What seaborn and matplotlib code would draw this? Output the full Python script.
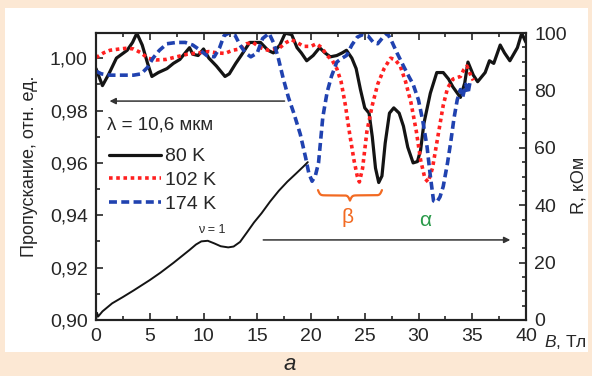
import numpy as np
import matplotlib
matplotlib.use('Agg')
import matplotlib.pyplot as plt
import seaborn as sns
from matplotlib.patches import Rectangle
from matplotlib.ticker import MultipleLocator, FuncFormatter

# Transmission curves (left axis), B in T
b_80 = [0.0, 0.6, 1.2, 1.9, 2.9, 3.4, 3.8, 4.3, 4.8, 5.2, 5.8, 6.6, 7.2, 7.8, 8.3, 8.7, 9.0, 9.5,
        10.0, 10.5, 11.2, 12.0, 12.4, 13.0, 13.5, 14.3, 15.3, 16.0, 16.5, 17.1, 17.6, 18.2, 18.7,
        19.1, 19.6, 20.2, 20.8, 21.3, 21.8, 22.4, 22.9, 23.3, 23.8, 24.2, 24.6, 25.0, 25.4, 25.7,
        26.0, 26.3, 26.6, 26.9, 27.3, 27.7, 28.2, 28.6, 29.0, 29.5, 29.9, 30.2, 30.5, 31.1, 31.7,
        32.3, 32.8, 33.2, 33.9, 34.3, 34.6, 35.1, 35.5, 36.2, 36.6, 37.0, 37.6, 38.0, 38.5, 39.2,
        39.6, 40.0]
t_80 = [0.996, 0.9895, 0.994, 1.000, 1.003, 1.006, 1.0095, 1.005, 0.998, 0.993, 0.9945, 0.996,
        0.998, 0.9995, 1.002, 1.004, 1.0015, 1.001, 1.0035, 1.000, 0.997, 0.993, 0.994, 0.998,
        1.001, 1.006, 1.006, 1.003, 1.002, 1.005, 1.0095, 1.009, 1.004, 1.002, 0.999, 1.001, 1.004,
        1.002, 1.0005, 1.001, 1.002, 1.003, 1.000, 0.996, 0.988, 0.981, 0.979, 0.970, 0.958,
        0.9525, 0.955, 0.9675, 0.979, 0.981, 0.979, 0.974, 0.966, 0.960, 0.9605, 0.965, 0.975,
        0.9866, 0.9945, 0.9945, 0.992, 0.989, 0.985, 0.9905, 0.9985, 0.9935, 0.991, 0.9945, 0.999,
        0.998, 1.005, 1.002, 0.999, 1.004, 1.0095, 1.006]

b_102 = [0.0, 0.7, 1.3, 2.2, 2.9, 3.5, 4.2, 4.8, 5.6, 6.5, 7.5, 8.5, 9.5, 10.5, 11.3, 12.0, 12.7,
         13.4, 14.0, 14.6, 15.3, 16.0, 16.6, 17.1, 17.7, 18.2, 18.7, 19.3, 20.0, 20.5, 21.0, 21.5,
         22.0, 22.4, 22.8, 23.2, 23.6, 24.0, 24.3, 24.5, 24.8, 25.2, 25.7, 26.2, 26.8, 27.4, 27.8,
         28.3, 28.8, 29.3, 29.8, 30.2, 30.6, 30.9, 31.3, 31.8, 32.3, 32.7, 33.2, 33.9, 34.2, 34.5,
         34.8, 35.1]
t_102 = [1.0002, 1.002, 1.003, 1.0035, 1.0038, 1.0035, 1.002, 1.000, 0.9993, 0.9995, 1.0005,
         1.0015, 1.002, 1.0025, 1.002, 1.0018, 1.003, 1.0035, 1.0055, 1.006, 1.004, 1.003, 1.0035,
         1.004, 1.006, 1.007, 1.006, 1.0045, 1.0045, 1.0055, 1.004, 1.001, 0.999, 0.996, 0.991,
         0.982, 0.971, 0.961, 0.955, 0.9527, 0.958, 0.972, 0.982, 0.990, 0.996, 1.000, 0.9995,
         0.997, 0.991, 0.983, 0.972, 0.961, 0.954, 0.9527, 0.958, 0.970, 0.982, 0.9885, 0.992,
         0.993, 0.9955, 0.997, 0.994, 0.9915]

b_174 = [0.0, 0.5, 1.3, 2.5, 3.5, 4.2, 4.8, 5.3, 5.9, 6.6, 7.5, 8.3, 9.0, 9.7, 10.3, 11.0, 11.5,
         11.9, 12.3, 12.9, 13.4, 13.9, 14.4, 15.0, 15.5, 16.1, 16.5, 16.9, 17.4, 17.9, 18.4, 19.0,
         19.5, 19.8, 20.1, 20.4, 20.7, 21.1, 21.5, 21.9, 22.4, 22.9, 23.3, 23.8, 24.3, 24.8, 25.3,
         25.8, 26.2, 26.7, 27.1, 27.5, 28.0, 28.6, 29.1, 29.5, 30.0, 30.4, 30.8, 31.1, 31.4, 31.7,
         32.0, 32.3, 32.7, 33.0, 33.3, 33.6, 33.9, 34.1, 34.4, 34.6, 34.8]
t_174 = [0.995, 0.994, 0.9935, 0.9935, 0.9935, 0.994, 0.9965, 1.000, 1.003, 1.0055, 1.006, 1.006,
         1.005, 1.003, 1.001, 1.0005, 1.004, 1.0085, 1.0095, 1.009, 1.005, 1.002, 1.0005, 1.002,
         1.0075, 1.0095, 1.006, 1.001, 0.9925, 0.985, 0.979, 0.971, 0.962, 0.956, 0.953, 0.955,
         0.960, 0.9775, 0.987, 0.993, 0.9985, 1.000, 1.001, 1.005, 1.008, 1.009, 1.0085, 1.006,
         1.0055, 1.008, 1.0095, 1.0065, 1.002, 0.997, 0.993, 0.990, 0.984, 0.976, 0.966, 0.955,
         0.9455, 0.945, 0.947, 0.951, 0.960, 0.968, 0.977, 0.984, 0.988, 0.985, 0.990, 0.9865,
         0.991]

# Resistance at 80 K (right axis), kOhm
b_res = [0.0, 0.1, 0.2, 0.6, 1.5, 2.5, 3.5, 5.0, 6.0, 7.2, 8.0, 8.7, 9.3, 9.8, 10.4, 11.0, 11.6,
         12.3, 12.8, 13.4, 14.0, 14.7, 15.4, 16.2, 17.0, 17.8, 18.6, 19.3, 19.7]
r_res = [0.0, 2.5, 1.2, 3.0, 5.8, 8.0, 10.3, 13.9, 16.5, 19.9, 22.3, 24.4, 26.3, 27.4, 27.6, 26.7,
         25.7, 25.3, 25.6, 27.2, 30.3, 34.0, 37.2, 41.3, 45.0, 48.2, 51.0, 53.5, 55.0]

labels = ['80 K', '102 K', '174 K']
colors = ['#141414', '#ff2020', '#2042b0']
styles = ['-', (0, (1, 1)), (0, (2.2, 1.2))]


def draw_brace(ax, x0, x1, y, depth, color):
    # curly brace opening upward, tip pointing down
    xs = np.linspace(x0, x1, 201)
    mid = (x0 + x1) / 2
    k = 60.0 / (x1 - x0)
    half = np.where(xs <= mid, xs, x0 + x1 - xs)
    s = 1 / (1 + np.exp(-k * (half - x0))) + 1 / (1 + np.exp(-k * (half - mid)))
    ax.plot(xs, y - depth * (s - 0.5), color=color, lw=1.6)


sns.set_style('ticks')
plt.rcParams['font.family'] = ['Liberation Sans', 'DejaVu Sans']
plt.rcParams['mathtext.fontset'] = 'custom'
plt.rcParams['mathtext.it'] = 'Liberation Sans:italic'

fig = plt.figure(figsize=(5.92, 3.76), dpi=100)
fig.patch.set_facecolor('#fce8d4')
panel = Rectangle((5 / 592, 1 - 352 / 376), 583 / 592, 344 / 376,
                  transform=fig.transFigure, facecolor='white', edgecolor='none', zorder=-5)
fig.patches.append(panel)

ax = fig.add_axes([96 / 592, 1 - 320 / 376, 430 / 592, 287 / 376])
ax.set_facecolor('white')

for b, t, lab, c, ls in zip([b_80, b_102, b_174], [t_80, t_102, t_174], labels, colors, styles):
    sns.lineplot(x=b, y=t, ax=ax, color=c, linestyle=ls, lw=2.3 if ls == '-' else 2.6,
                 label=lab)

ax.set_xlim(0, 40)
ax.set_ylim(0.90, 1.0096)
ax.xaxis.set_major_locator(MultipleLocator(5))
ax.xaxis.set_minor_locator(MultipleLocator(2.5))
ax.yaxis.set_major_locator(MultipleLocator(0.02))
ax.yaxis.set_minor_locator(MultipleLocator(0.01))
ax.yaxis.set_major_formatter(FuncFormatter(lambda v, p: f'{v:.2f}'.replace('.', ',')))
ax.tick_params(which='both', direction='in', top=True, labelsize=14, width=1.2, pad=6)
ax.tick_params(which='major', length=5)
ax.tick_params(which='minor', length=3)
ax.set_ylabel('Пропускание, отн. ед.', fontsize=13)
ax.yaxis.set_label_coords(-0.136, 0.535)
ax.set_xlabel('')

ax2 = ax.twinx()
sns.lineplot(x=b_res, y=r_res, ax=ax2, color='#141414', lw=1.4)
ax2.set_ylim(0, 100)
ax2.yaxis.set_major_locator(MultipleLocator(20))
ax2.yaxis.set_minor_locator(MultipleLocator(5))
ax2.tick_params(which='both', direction='in', labelsize=14, width=1.2, pad=6)
ax2.tick_params(which='major', length=5)
ax2.tick_params(which='minor', length=3)
ax2.set_ylabel('R, кОм', fontsize=13)
ax2.yaxis.set_label_coords(1.104, 0.47)

for a in (ax, ax2):
    for sp in a.spines.values():
        sp.set_linewidth(1.5)
        sp.set_color('#222222')

leg = ax.legend(loc='upper left', bbox_to_anchor=(0.03, 0.60), frameon=False, fontsize=14,
                handlelength=2.7, handletextpad=0.2, labelspacing=0.32, borderpad=0,
                borderaxespad=0)

ax.text(0.026, 0.679, 'λ = 10,6 мкм', transform=ax.transAxes, fontsize=13.5, va='center')
ax.annotate('', xy=(1.0, 0.9836), xytext=(17.8, 0.9836),
            arrowprops=dict(arrowstyle='-|>', lw=1.1, color='#333333', mutation_scale=9))
ax2.annotate('', xy=(38.8, 27.9), xytext=(15.3, 27.9),
             arrowprops=dict(arrowstyle='-|>', lw=1.1, color='#333333', mutation_scale=9))
ax2.text(10.8, 31.4, 'ν = 1', fontsize=9, ha='center', va='center')

draw_brace(ax, 20.65, 26.6, 0.9496, 0.0040, '#f26a22')
ax.text(23.4, 0.9393, 'β', color='#f26a22', fontsize=15, ha='center', va='center')
ax.text(30.6, 0.938, 'α', color='#2a9a4a', fontsize=15, ha='center', va='center')

fig.text(544 / 592, 1 - 342 / 376, '$B$, Тл', fontsize=12.5, va='center')
fig.text(290 / 592, 1 - 365 / 376, 'а', fontsize=16, style='italic', ha='center', va='center')

fig.savefig('out.png', dpi=100, facecolor=fig.get_facecolor())
